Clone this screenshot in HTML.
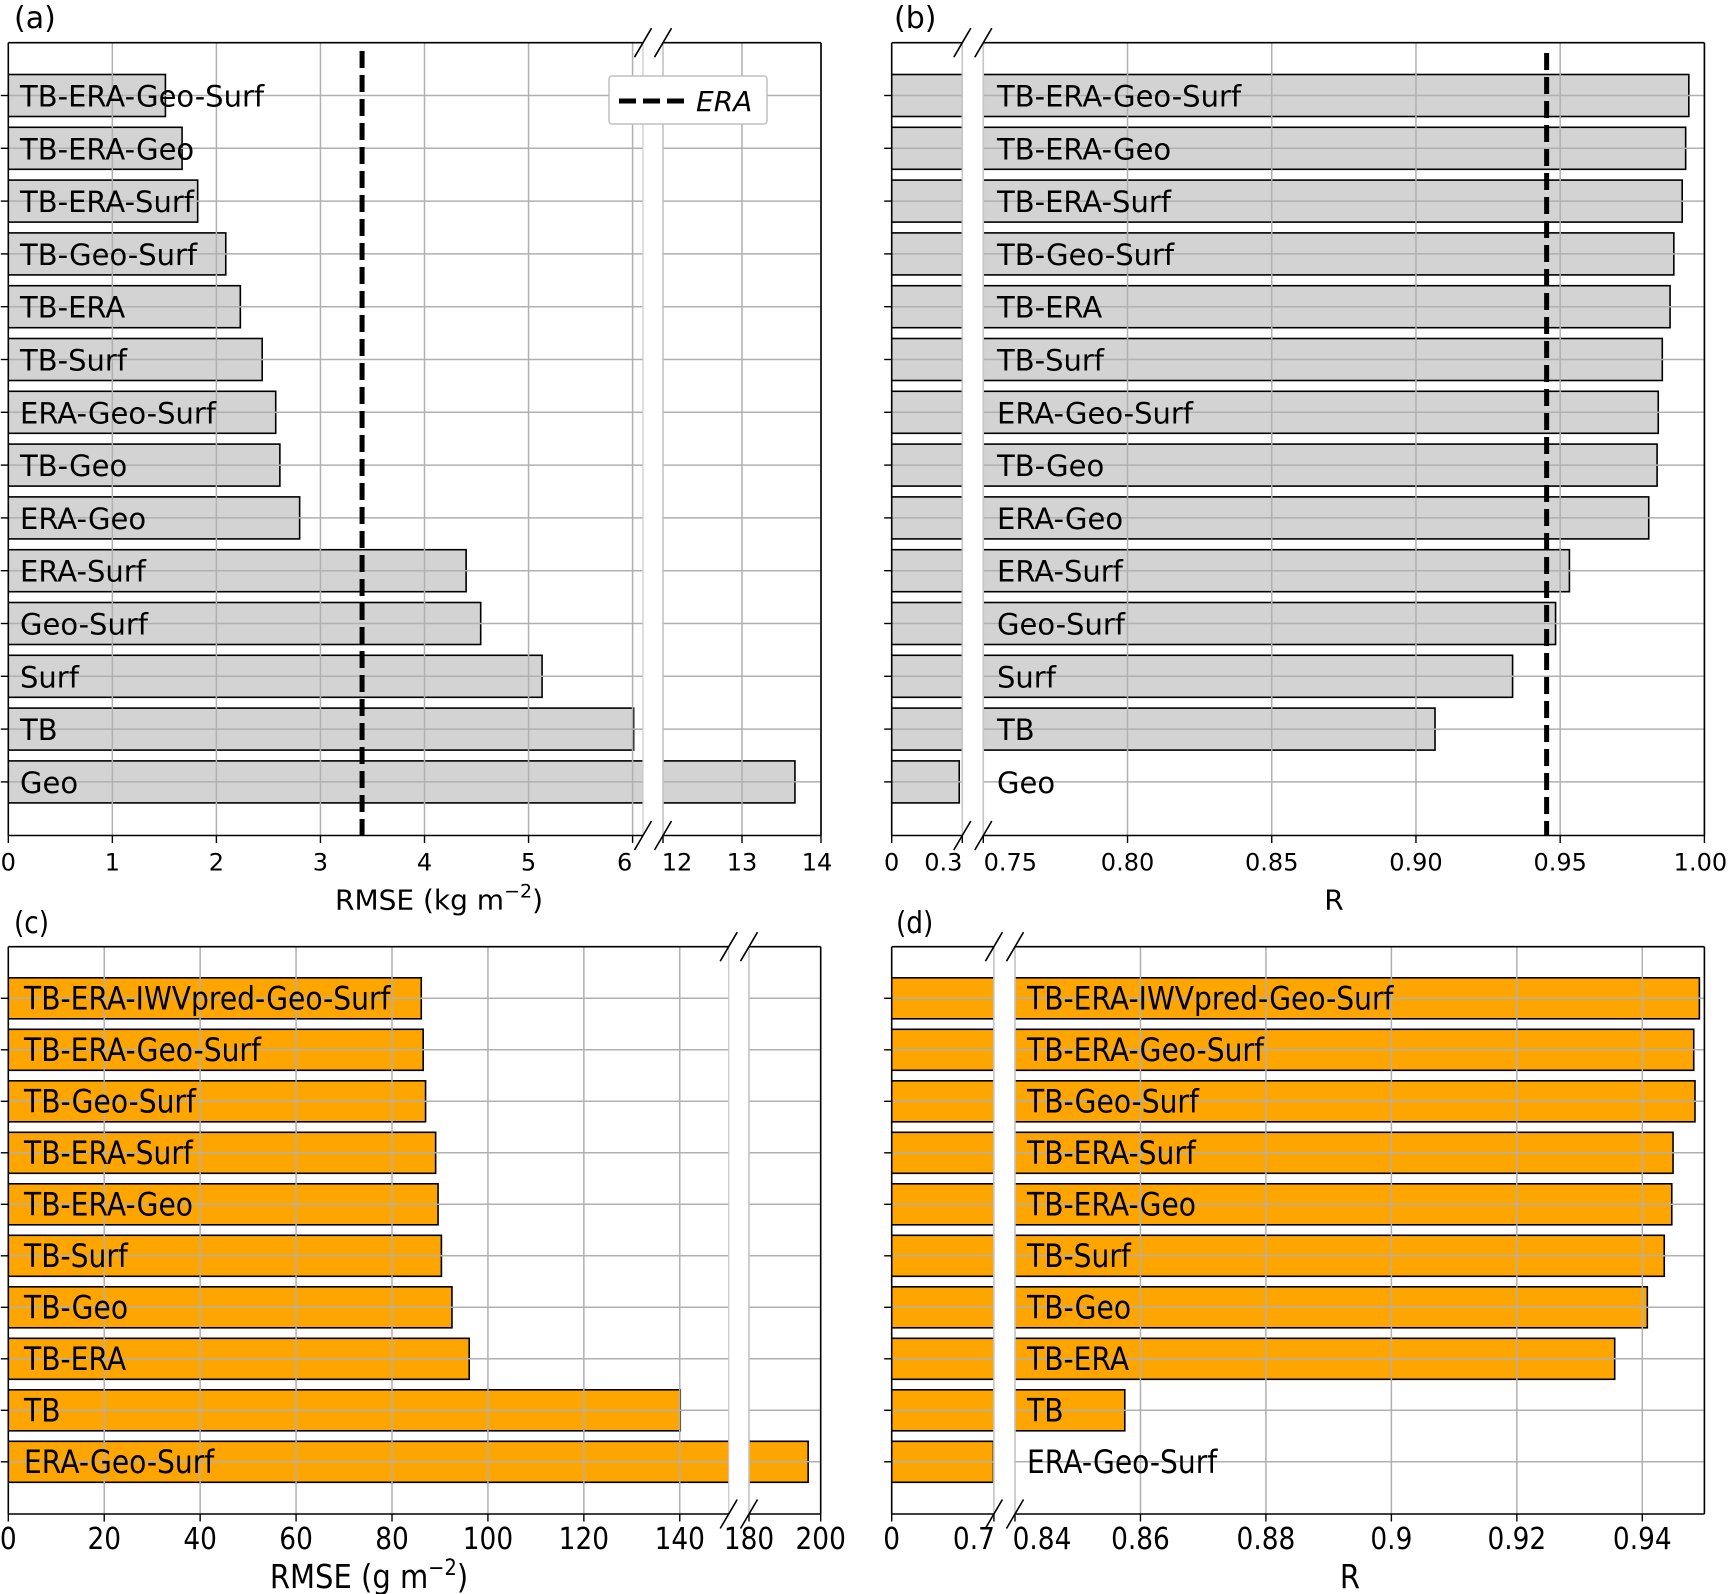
<!DOCTYPE html>
<html><head><meta charset="utf-8"><style>
html,body{margin:0;padding:0;background:#fff;}
svg{display:block;font-family:"DejaVu Sans","Liberation Sans",sans-serif;}
</style></head><body>
<svg id="fig" width="1731" height="1594" viewBox="0 0 1731 1594" xmlns="http://www.w3.org/2000/svg"></svg>
<script>
// ---- Data ----
const catsA = ["TB-ERA-Geo-Surf","TB-ERA-Geo","TB-ERA-Surf","TB-Geo-Surf","TB-ERA","TB-Surf","ERA-Geo-Surf","TB-Geo","ERA-Geo","ERA-Surf","Geo-Surf","Surf","TB","Geo"];
const rmseA = [1.51,1.67,1.82,2.09,2.23,2.44,2.57,2.61,2.80,4.40,4.54,5.13,6.01,13.67];
const rA = [0.9946,0.9935,0.9923,0.9894,0.9881,0.9854,0.9840,0.9836,0.9807,0.9532,0.9484,0.9335,0.9066,0.287];
const eraRmse = 3.40;
const eraR = 0.9453;
const catsC = ["TB-ERA-IWVpred-Geo-Surf","TB-ERA-Geo-Surf","TB-Geo-Surf","TB-ERA-Surf","TB-ERA-Geo","TB-Surf","TB-Geo","TB-ERA","TB","ERA-Geo-Surf"];
const rmseC = [86.1,86.5,87.0,89.1,89.6,90.3,92.5,96.1,140.1,196.5];
const rC = [0.9491,0.9482,0.9484,0.9449,0.9447,0.9435,0.9408,0.9356,0.8575,0.697];
const ticksA = [0,1,2,3,4,5,6,12,13,14];
const tickLabA = ["0","1","2","3","4","5","6","12","13","14"];
const ticksB = [0,0.3,0.75,0.80,0.85,0.90,0.95,1.00];
const tickLabB = ["0","0.3","0.75","0.80","0.85","0.90","0.95","1.00"];
const ticksC = [0,20,40,60,80,100,120,140,180,200];
const tickLabC = ["0","20","40","60","80","100","120","140","180","200"];
const ticksD = [0,0.7,0.84,0.86,0.88,0.90,0.92,0.94];
const tickLabD = ["0","0.7","0.84","0.86","0.88","0.9","0.92","0.94"];

const NS="http://www.w3.org/2000/svg";
const svg=document.getElementById('fig');
function mk(tag,attrs,parent){const e=document.createElementNS(NS,tag);for(const k in attrs)e.setAttribute(k,attrs[k]);(parent||svg).appendChild(e);return e;}
function txt(parent,x,y,size,cx,anchor,extra){
  const a={x:0,y:0,'font-size':size,transform:'translate('+x+','+y+') scale('+cx+',1)'};
  if(anchor)a['text-anchor']=anchor;
  for(const k in (extra||{}))a[k]=extra[k];
  return mk('text',a,parent);
}
let clipId=0;

function panel(o){
  const g=mk('g',{});
  
  
  const segs=o.segs;
  function xs(v){for(const s of segs){if(v>=s.d0-1e-9&&v<=s.d1+1e-9)return s.p0+(v-s.d0)/(s.d1-s.d0)*(s.p1-s.p0);}return null;}
  const n=o.cats.length;
  function yc(i){return o.y0+i*o.dy;}
  segs.forEach(s=>{
    const id='c'+(clipId++);
    const cp=mk('clipPath',{id:id},g);
    mk('rect',{x:s.p0,y:o.top,width:s.p1-s.p0,height:o.bot-o.top},cp);
    const bg=mk('g',{'clip-path':'url(#'+id+')'},g);
    o.vals.forEach((v,i)=>{
      if(v<=s.d0)return;
      const ve=Math.min(v,s.d1+(s.d1-s.d0));
      const x1=s.p0+(ve-s.d0)/(s.d1-s.d0)*(s.p1-s.p0);
      const r=mk('rect',{x:s.p0-2,y:yc(i)-o.bh/2,width:x1-s.p0+2,height:o.bh,fill:o.color,stroke:'#000','stroke-width':1.6},bg);
      
      
    });
  });
  segs.forEach(s=>{
    for(let i=0;i<n;i++) mk('line',{x1:s.p0,x2:s.p1,y1:yc(i),y2:yc(i),stroke:'#b0b0b0','stroke-width':1.5},g);
  });
  o.ticks.forEach(t=>{const x=xs(t);if(x===null||t===0)return;mk('line',{x1:x,x2:x,y1:o.top,y2:o.bot,stroke:'#b0b0b0','stroke-width':1.5},g);});
  segs.forEach((s,k)=>{ if(k>0) mk('line',{x1:s.p0,x2:s.p0,y1:o.top,y2:o.bot,stroke:'#c8c8c8','stroke-width':1.2},g); if(k<segs.length-1) mk('line',{x1:s.p1,x2:s.p1,y1:o.top,y2:o.bot,stroke:'#c8c8c8','stroke-width':1.2},g);});
  if(o.era!==undefined){
    const x=xs(o.era);
    const l=mk('line',{x1:x,x2:x,y1:o.eraTop,y2:o.bot,stroke:'#000','stroke-width':5,'stroke-dasharray':'17 7'},g);
    
    
  }
  o.cats.forEach((c,i)=>{
    const t=txt(g,o.labx,yc(i)+11,o.fs,o.cx,null,{fill:'#000'});
    t.textContent=c;
    
    
  });
  segs.forEach(s=>{
    mk('line',{x1:s.p0,x2:s.p1,y1:o.top,y2:o.top,stroke:'#000','stroke-width':1.6},g);
    mk('line',{x1:s.p0,x2:s.p1,y1:o.bot,y2:o.bot,stroke:'#000','stroke-width':1.6},g);
  });
  mk('line',{x1:segs[0].p0,x2:segs[0].p0,y1:o.top,y2:o.bot,stroke:'#000','stroke-width':1.6},g);
  const L=segs[segs.length-1];
  mk('line',{x1:L.p1,x2:L.p1,y1:o.top,y2:o.bot,stroke:'#000','stroke-width':1.6},g);
  const s0=segs[0];
  [s0.p1,segs[1].p0].forEach(x=>{[o.top,o.bot].forEach(y=>{mk('line',{x1:x-8.5,y1:y+14.5,x2:x+8.5,y2:y-14.5,stroke:'#000','stroke-width':1.6},g);});});
  for(let i=0;i<n;i++) mk('line',{x1:s0.p0-7.5,x2:s0.p0,y1:yc(i),y2:yc(i),stroke:'#000','stroke-width':1.4},g);
  o.ticks.forEach((t,i)=>{
    const x=xs(t);
    mk('line',{x1:x,x2:x,y1:o.bot,y2:o.bot+7.5,stroke:'#000','stroke-width':1.4},g);
    const tl=txt(g,x+(o.tdx[i]||0),o.bot+35,o.tfs,o.cx,'middle');
    tl.textContent=o.tlab[i];
    
    
  });
  const xl=txt(g,o.xlx,o.bot+74,o.xfs,o.cx,'middle');
  xl.innerHTML=o.xlab;
  
  
  const pl=txt(g,o.plx,o.ply,30,o.cx,null);
  pl.textContent=o.plab;
  
  
  return g;
}

panel({name:'panel-a',cats:catsA,vals:rmseA,color:'#d3d3d3',top:42.7,bot:835.5,y0:95.5,dy:52.8,bh:42,fs:29,cx:1,tfs:24,xfs:28,labx:20,
  segs:[{d0:0,d1:6.1,p0:8.3,p1:643},{d0:12,d1:14,p0:663,p1:821}],
  ticks:ticksA,tlab:tickLabA,tdx:[0,0,0,0,0,0,-8,14,0,-4],era:eraRmse,eraTop:51,
  xlab:'RMSE (kg m<tspan font-size="19" dy="-12">−2</tspan><tspan dy="12">)</tspan>',xlx:439,plx:14,ply:28,plab:'(a)'});
panel({name:'panel-b',cats:catsA,vals:rA,color:'#d3d3d3',top:42.7,bot:835.5,y0:95.5,dy:52.8,bh:42,fs:29,cx:1,tfs:24,xfs:28,labx:997,
  segs:[{d0:0,d1:0.3,p0:891.7,p1:962.3},{d0:0.75,d1:1.0,p0:983.3,p1:1704.4}],
  ticks:ticksB,tlab:tickLabB,tdx:[0,-19,27,0,0,0,0,-4],era:eraR,eraTop:53,
  xlab:'R',xlx:1334,plx:894,ply:28,plab:'(b)'});
panel({name:'panel-c',cats:catsC,vals:rmseC,color:'#ffa500',top:946.7,bot:1514,y0:998.3,dy:51.5,bh:41,fs:32,cx:0.88,tfs:30,xfs:33,labx:24,
  segs:[{d0:0,d1:150.2,p0:8.3,p1:728.7},{d0:180,d1:200,p0:749,p1:820.7}],
  ticks:ticksC,tlab:tickLabC,tdx:[0,0,0,0,0,0,0,0,0,0],
  xlab:'RMSE (g m<tspan font-size="22" dy="-13">−2</tspan><tspan dy="13">)</tspan>',xlx:369,plx:14,ply:933,plab:'(c)'});
panel({name:'panel-d',cats:catsC,vals:rC,color:'#ffa500',top:946.7,bot:1514,y0:998.3,dy:51.5,bh:41,fs:32,cx:0.88,tfs:30,xfs:33,labx:1027,
  segs:[{d0:0,d1:0.7,p0:891.7,p1:993.9},{d0:0.84,d1:0.9499,p0:1015,p1:1704.4}],
  ticks:ticksD,tlab:tickLabD,tdx:[0,-20,27,0,0,0,0,0],
  xlab:'R',xlx:1350,plx:896,ply:933,plab:'(d)'});

const lg=mk('g',{});


mk('rect',{x:609,y:76,width:158,height:48,rx:3,fill:'#fff',stroke:'#c0c0c0','stroke-width':1.5},lg);
mk('line',{x1:619,x2:684,y1:101,y2:101,stroke:'#000','stroke-width':5,'stroke-dasharray':'17 7'},lg);
const lt=mk('text',{x:696,y:111,'font-size':28,'font-style':'italic'},lg);
lt.textContent='ERA';


</script>
</body></html>
